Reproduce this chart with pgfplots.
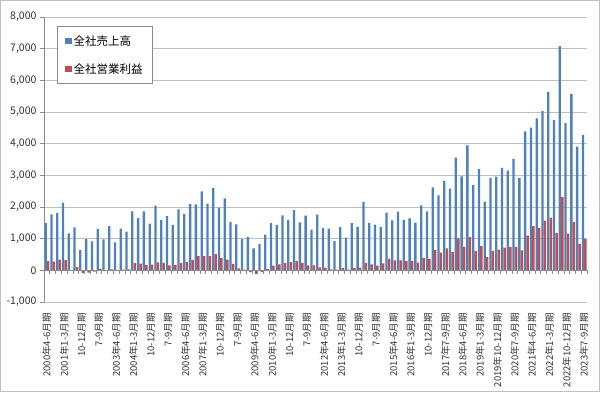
\documentclass[border=0pt]{standalone}
\usepackage{pgfplots}
\pgfplotsset{compat=1.18}
\usepackage{pgfplotstable}
\usepackage{fontspec}
\setmainfont{Noto Sans CJK JP}
\definecolor{xlblue}{HTML}{4F81BD}
\definecolor{xlred}{HTML}{C0504D}
\definecolor{gridc}{HTML}{BFBFBF}
\definecolor{axisc}{HTML}{8C8C8C}
\pgfplotstableread{
i sales profit
0 1500 288
1 1770 277
2 1810 340
3 2135 320
4 1170 10
5 1360 110
6 640 -90
7 985 -70
8 915 -40
9 1300 45
10 975 -10
11 1395 28
12 885 -20
13 1320 20
14 1220 30
15 1860 225
16 1650 215
17 1860 170
18 1475 180
19 2040 252
20 1590 226
21 1715 158
22 1435 175
23 1925 226
24 1785 268
25 2090 325
26 2085 445
27 2490 445
28 2105 445
29 2600 513
30 1980 388
31 2270 341
32 1530 205
33 1450 60
34 988 22
35 1045 -60
36 690 -120
37 835 -48
38 1130 45
39 1490 148
40 1435 185
41 1735 230
42 1590 258
43 1905 294
44 1513 232
45 1725 158
46 1285 158
47 1758 97
48 1330 76
49 1320 34
50 920 24
51 1362 70
52 1035 23
53 1487 75
54 1372 86
55 2160 237
56 1500 187
57 1440 145
58 1370 222
59 1820 370
60 1575 312
61 1858 317
62 1590 290
63 1640 290
64 1495 242
65 2055 394
66 1860 357
67 2617 636
68 2370 557
69 2822 694
70 2580 584
71 3563 1009
72 2970 741
73 3946 1051
74 2690 605
75 3195 768
76 2170 422
77 2916 605
78 2958 658
79 3232 716
80 3147 732
81 3520 737
82 2916 627
83 4385 1095
84 4510 1400
85 4795 1342
86 5037 1568
87 5632 1668
88 4742 1179
89 7084 2316
90 4658 1158
91 5573 1521
92 3910 827
93 4274 990
}\datatable
\begin{document}
\begin{tikzpicture}[x=1pt,y=1pt]
\fill[white] (0,0) rectangle (600,392);
\draw[gridc, line width=0.8pt] (0.5,0.5) rectangle (599.5,391.5);
\begin{axis}[
  at={(44pt,90pt)}, anchor=south west,
  scale only axis, width=543pt, height=285pt,
  xmin=-0.5, xmax=93.5, ymin=-1000, ymax=8000,
  axis y line*=left, axis x line*=bottom,
  x axis line style={draw=none},
  y axis line style={axisc, line width=0.8pt},
  ytick={-1000,0,...,8000},
  ymajorgrids, grid style={gridc, line width=0.9pt},
  tick align=outside, major tick length=4pt,
  ytick style={axisc, line width=0.8pt},
  xtick={0,3,...,93},
  major x tick style={draw=none},
  xticklabels={2000年4-6月期, 2001年1-3月期, 10-12月期, 7-9月期, 2003年4-6月期, 2004年1-3月期, 10-12月期, 7-9月期, 2006年4-6月期, 2007年1-3月期, 10-12月期, 7-9月期, 2009年4-6月期, 2010年1-3月期, 10-12月期, 7-9月期, 2012年4-6月期, 2013年1-3月期, 10-12月期, 7-9月期, 2015年4-6月期, 2016年1-3月期, 10-12月期, 2017年7-9月期, 2018年4-6月期, 2019年1-3月期, 2019年10-12月期, 2020年7-9月期, 2021年4-6月期, 2022年1-3月期, 2022年10-12月期, 2023年7-9月期},
  xticklabel style={rotate=90, anchor=east, font=\fontsize{9.5}{11}\selectfont, text=black!80, inner sep=1pt},
  xticklabel shift=6pt,
  yticklabel style={font=\fontsize{10.5}{12}\selectfont, text=black!80},
  /pgf/number format/assume math mode=true,
  /pgf/number format/1000 sep={,},
  scaled y ticks=false,
  legend style={at={(rel axis cs:0.024,0.968)}, anchor=north west, draw=axisc, line width=0.6pt,
    inner xsep=8pt, inner ysep=7pt, row sep=13pt, font=\fontsize{11.5}{13}\selectfont,
    legend cell align=left},
  legend image code/.code={\fill[#1] (0pt,-3.2pt) rectangle (6.4pt,3.2pt);},
  clip=false,
]
\addplot[ybar, bar width=2.3pt, bar shift=-1.2pt, fill=xlblue, draw=none] table[x=i, y=sales] {\datatable};
\addlegendentry{全社売上高}
\addplot[ybar, bar width=2.5pt, bar shift=1.3pt, fill=xlred, draw=none] table[x=i, y=profit] {\datatable};
\addlegendentry{全社営業利益}
\draw[axisc, line width=0.8pt] (axis cs:-0.5,0) -- (axis cs:93.5,0);
\pgfplotsinvokeforeach{-0.5,0.5,...,93.5}{\draw[axisc, line width=0.6pt] (axis cs:#1,0) -- (axis cs:#1,-110);}
\end{axis}
\end{tikzpicture}
\end{document}
